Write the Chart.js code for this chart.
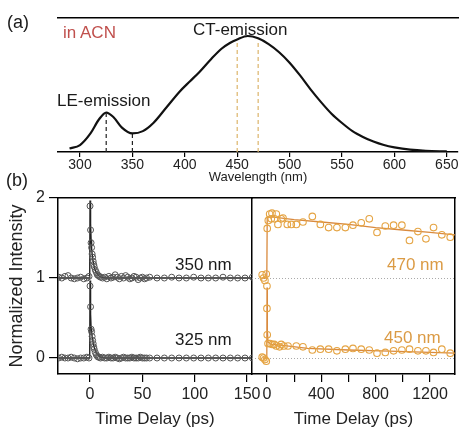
<!DOCTYPE html>
<html>
<head>
<meta charset="utf-8">
<script src="https://cdn.jsdelivr.net/npm/chart.js@4"></script>
<style>
  body { margin: 0; background: #fff; }
  #wrap { position: relative; width: 461px; height: 428px; font-family: "Liberation Sans", Arial, sans-serif; }
  canvas { position: absolute; left: 0; top: 0; }
  .lbl { position: absolute; line-height: 1; white-space: nowrap; color: #1a1a1a; }
</style>
</head>
<body>
<div id="wrap">
  <canvas id="spec" width="461" height="428"></canvas>
  <canvas id="fast" width="461" height="428"></canvas>
  <canvas id="slow" width="461" height="428"></canvas>
  <div class="lbl" style="left:7px;top:13px;font-size:18px">(a)</div>
  <div class="lbl" style="left:63px;top:24px;font-size:17px;color:#c0504d">in ACN</div>
  <div class="lbl" style="left:193px;top:21px;font-size:17px">CT-emission</div>
  <div class="lbl" style="left:57px;top:92px;font-size:17px">LE-emission</div>
  <div class="lbl" style="left:6px;top:171px;font-size:18px">(b)</div>
  <div class="lbl" style="left:175px;top:256px;font-size:17px">350 nm</div>
  <div class="lbl" style="left:175px;top:331px;font-size:17px">325 nm</div>
  <div class="lbl" style="left:387px;top:256px;font-size:17px;color:#db9b45">470 nm</div>
  <div class="lbl" style="left:384px;top:329px;font-size:17px;color:#db9b45">450 nm</div>
</div>
<script>
// (a) steady-state emission spectrum ==================
const wl = [290, 300, 310, 318, 325, 332, 340, 350, 360, 370, 383, 395, 405, 414, 425, 435, 443, 450, 460, 470,
  480, 490, 500, 510, 520, 530, 540, 550, 560, 570, 580, 590, 600, 615, 630, 650];
const spec = [0.03, 0.06, 0.16, 0.28, 0.34, 0.30, 0.21, 0.16, 0.18, 0.25, 0.39, 0.52, 0.61, 0.69, 0.80, 0.89, 0.94, 0.97, 1.0, 0.98,
  0.93, 0.86, 0.77, 0.66, 0.54, 0.43, 0.33, 0.25, 0.18, 0.13, 0.09, 0.06, 0.04, 0.02, 0.01, 0.005];
const wlTicks = [300, 350, 400, 450, 500, 550, 600, 650];
const leMarks = [325, 350];
const leMarkTop = [0.33, 0.16];
const ctMarks = [450, 470];
const ctMarkTop = [0.96, 0.97];

// (b) kinetics, left panel (ps) ======================
const tFast = [-30, -27, -24, -21, -18, -15, -12, -9, -6, -3, -1,
  0, 0.5, 1, 1.5, 2, 2.5, 3, 3.5, 4, 5, 6, 7, 8, 9, 10,
  12, 14, 16, 18, 20, 22, 24, 26, 28, 30, 32, 34, 36, 38, 40, 42, 44, 46, 48, 50, 52, 54,
  57, 64, 71, 78, 85, 92, 99, 106, 113, 120, 127, 134, 141, 148, 155];
const k350 = [0.01, 0.0, 0.02, 0.03, 0.0, -0.01, 0.0, 0.01, -0.01, 0.0, 0.02,
  0.9, 0.6, 0.44, 0.38, 0.3, 0.26, 0.21, 0.17, 0.14, 0.1, 0.07, 0.04, 0.03, 0.02, 0.01,
  0.0, 0.01, -0.01, 0.02, 0.0, 0.01, 0.04, 0.01, -0.01, 0.02, 0.0, 0.03, 0.01, -0.01, 0.0, 0.02, 0.01, -0.02, 0.0, 0.01, -0.01, 0.0,
  0.01, 0.0, 0.0, 0.01, 0.0, 0.0, 0.01, 0.0, 0.0, 0.0, 0.01, 0.0, 0.0, 0.0, 0.01];
const k325 = [0.0, 0.01, 0.0, 0.0, 0.01, 0.0, -0.01, 0.0, 0.0, 0.01, 0.0,
  0.9, 0.64, 0.36, 0.33, 0.27, 0.22, 0.18, 0.14, 0.11, 0.07, 0.04, 0.02, 0.01, 0.01, 0.0,
  0.01, 0.0, 0.0, 0.01, 0.0, 0.0, 0.01, 0.0, -0.01, 0.0, 0.01, 0.0, 0.0, 0.0, 0.01, 0.0, 0.0, 0.0, 0.01, 0.0, 0.0, 0.0,
  0.0, 0.0, 0.0, 0.0, 0.0, 0.0, 0.0, 0.0, 0.0, 0.0, 0.0, 0.0, 0.0, 0.0, 0.0];
const tFastFit = [-30, -0.3, 0, 0.5, 1, 1.5, 2, 3, 4, 5, 6, 8, 10, 14, 155];
const fit350 = [0, 0, 0.97, 0.68, 0.48, 0.37, 0.3, 0.2, 0.14, 0.1, 0.07, 0.03, 0.015, 0, 0];
const fit325 = [0, 0, 0.97, 0.55, 0.38, 0.32, 0.27, 0.19, 0.13, 0.09, 0.06, 0.03, 0.01, 0, 0];
const fastTicks = [0, 50, 100, 150];

// (b) kinetics, right panel (ps) =====================
const t470 = [-35, -25, -15, -5, 0, 2, 10, 20, 32, 37, 56, 69, 81, 105, 118, 150, 179, 216, 265,
  334, 393, 454, 515, 577, 633, 694, 753, 810, 871, 932, 993, 1049, 1111, 1170, 1226, 1287, 1349];
const k470 = [0.04, 0.0, -0.03, 0.05, -0.1, 0.62, 0.72, 0.80, 0.74, 0.81, 0.74, 0.80, 0.67, 0.74, 0.75, 0.67, 0.67, 0.67, 0.70,
  0.77, 0.67, 0.63, 0.63, 0.63, 0.66, 0.69, 0.74, 0.57, 0.65, 0.66, 0.66, 0.47, 0.58, 0.49, 0.63, 0.54, 0.51];
const t450 = [-35, -25, -15, -5, 0, 2, 8, 22, 39, 54, 69, 93, 105, 125, 155, 216, 265,
  334, 393, 454, 515, 577, 633, 694, 753, 810, 871, 932, 993, 1049, 1111, 1170, 1226, 1287, 1349];
const k450 = [0.01, 0.0, -0.02, -0.04, 0.62, 0.29, 0.18, 0.18, 0.17, 0.17, 0.15, 0.14, 0.17, 0.15, 0.15, 0.15, 0.14,
  0.10, 0.11, 0.11, 0.09, 0.11, 0.12, 0.11, 0.10, 0.06, 0.07, 0.09, 0.10, 0.11, 0.09, 0.09, 0.07, 0.11, 0.06];
const t470Fit = [-30, -1, 2, 50, 200, 400, 600, 800, 1000, 1200, 1384];
const fit470 = [0, 0, 0.76, 0.76, 0.73, 0.70, 0.67, 0.63, 0.60, 0.57, 0.54];
const t450Fit = [-30, -1, 0.5, 3, 8, 30, 100, 300, 600, 900, 1200, 1384];
const fit450 = [0, 0, 0.88, 0.35, 0.2, 0.17, 0.16, 0.12, 0.10, 0.085, 0.07, 0.06];
const slowTicks = [0, 200, 400, 600, 800, 1000, 1200];
const yTicks = [0, 1, 2];

const GREY = "#555";
const ORANGE = "#e5a443";
const ORANGE_LINE = "#d98a3e";

Chart.defaults.font.family = '"Liberation Sans", Arial, sans-serif';
Chart.defaults.color = "#222";

function pts(xs, ys, off) {
  return xs.map((x, i) => ({ x: x, y: ys[i] + (off || 0) }));
}

// axis that only draws a frame line
function frame(pos, min, max) {
  return {
    type: "linear", position: pos, min: min, max: max,
    ticks: { display: false },
    grid: { display: false },
    border: { display: true, color: "#000", width: 1.5 },
    afterFit(s) { if (pos === "top" || pos === "bottom") s.height = 0; else s.width = 0; },
  };
}

const baseOpts = {
  responsive: false,
  devicePixelRatio: 1,
  animation: false,
  plugins: { legend: { display: false }, tooltip: { enabled: false } },
};

// (a) spectrum
const specSets = [
  {
    data: pts(wl, spec), showLine: true, borderColor: "#111", borderWidth: 2.2,
    pointRadius: 0, cubicInterpolationMode: "monotone",
  },
];
leMarks.forEach((w, i) => specSets.push({
  data: pts([w, w], [0, leMarkTop[i]]), showLine: true, borderColor: "#222", borderWidth: 1.2,
  borderDash: [4, 3], pointRadius: 0,
}));
ctMarks.forEach((w, i) => specSets.push({
  data: pts([w, w], [0, ctMarkTop[i]]), showLine: true, borderColor: "#dcb46a", borderWidth: 1.2,
  borderDash: [4, 3], pointRadius: 0,
}));

new Chart(document.getElementById("spec"), {
  type: "scatter",
  data: { datasets: specSets },
  options: Object.assign({}, baseOpts, {
    layout: { padding: { left: 58, right: 3, top: 18, bottom: 244 } },
    scales: {
      x: {
        type: "linear", min: 279, max: 660.7,
        afterBuildTicks(s) { s.ticks = wlTicks.map(v => ({ value: v })); },
        afterFit(s) { s.height = 32; },
        grid: { drawOnChartArea: false, drawTicks: true, tickLength: 5, color: "#000", lineWidth: 1.2 },
        border: { color: "#000", width: 1.5 },
        ticks: { font: { size: 14 }, padding: 0, maxRotation: 0, autoSkip: false },
        title: { display: true, text: "Wavelength (nm)", font: { size: 13, lineHeight: 1 }, padding: 0 },
      },
      xTop: frame("top", 279, 660.7),
      y: { display: false, min: 0, max: 1.155 },
    },
  }),
});

// (b) left: 0-150 ps
new Chart(document.getElementById("fast"), {
  type: "scatter",
  data: {
    datasets: [
      { data: pts(tFast, k350, 1), pointRadius: 3, pointBorderWidth: 1, borderColor: GREY, backgroundColor: "rgba(0,0,0,0)", order: 0 },
      { data: pts(tFast, k325, 0), pointRadius: 3, pointBorderWidth: 1, borderColor: GREY, backgroundColor: "rgba(0,0,0,0)", order: 0 },
      { data: pts(tFastFit, fit350, 1), showLine: true, pointRadius: 0, borderColor: "#222", borderWidth: 1.4, order: 1 },
      { data: pts(tFastFit, fit325, 0), showLine: true, pointRadius: 0, borderColor: "#222", borderWidth: 1.4, order: 1 },
    ],
  },
  options: Object.assign({}, baseOpts, {
    layout: { padding: { left: 8, right: 209, top: 198, bottom: 0 } },
    scales: {
      x: {
        type: "linear", min: -30.6, max: 154.7,
        afterBuildTicks(s) { s.ticks = fastTicks.map(v => ({ value: v })); },
        afterFit(s) { s.height = 54; },
        grid: { drawOnChartArea: false, drawTicks: true, tickLength: 8, color: "#000", lineWidth: 1.2 },
        border: { color: "#000", width: 1.5 },
        ticks: { font: { size: 16 }, padding: 3, maxRotation: 0, autoSkip: false },
        title: { display: true, text: "Time Delay (ps)", font: { size: 17, lineHeight: 1 }, padding: 0 },
      },
      y: {
        type: "linear", min: -0.2, max: 2,
        afterBuildTicks(s) { s.ticks = yTicks.map(v => ({ value: v })); },
        afterFit(s) { s.width = 50; },
        grid: { drawOnChartArea: false, drawTicks: true, tickLength: 9, color: "#000", lineWidth: 1.2 },
        border: { color: "#000", width: 1.5 },
        ticks: { font: { size: 16 }, padding: 4 },
        title: { display: true, text: "Normalized Intensity", font: { size: 18, lineHeight: 1 }, padding: 0 },
      },
      xTop: frame("top", -30.6, 154.7),
      yRight: frame("right", -0.2, 2),
    },
  }),
});

// (b) right: 0-1400 ps
new Chart(document.getElementById("slow"), {
  type: "scatter",
  data: {
    datasets: [
      { data: pts(t470, k470, 1), pointRadius: 3.3, pointBorderWidth: 1.1, borderColor: ORANGE, backgroundColor: "rgba(0,0,0,0)", order: 0 },
      { data: pts(t450, k450, 0), pointRadius: 3.3, pointBorderWidth: 1.1, borderColor: ORANGE, backgroundColor: "rgba(0,0,0,0)", order: 0 },
      { data: pts(t470Fit, fit470, 1), showLine: true, pointRadius: 0, borderColor: ORANGE_LINE, borderWidth: 1.3, order: 1 },
      { data: pts(t450Fit, fit450, 0), showLine: true, pointRadius: 0, borderColor: ORANGE_LINE, borderWidth: 1.3, order: 1 },
    ],
  },
  options: Object.assign({}, baseOpts, {
    layout: { padding: { left: 252, right: 6, top: 198, bottom: 0 } },
    scales: {
      x: {
        type: "linear", min: -110, max: 1384,
        afterBuildTicks(s) { s.ticks = slowTicks.map(v => ({ value: v })); },
        afterFit(s) { s.height = 54; },
        grid: { drawOnChartArea: false, drawTicks: true, tickLength: 8, color: "#000", lineWidth: 1.2 },
        border: { color: "#000", width: 1.5 },
        ticks: {
          font: { size: 16 }, padding: 3, maxRotation: 0, autoSkip: false,
          callback: v => (v % 400 === 0 ? String(v) : ""),
        },
        title: { display: true, text: "Time Delay (ps)", font: { size: 17, lineHeight: 1 }, padding: 0 },
      },
      y: {
        type: "linear", min: -0.2, max: 2,
        afterBuildTicks(s) { s.ticks = [0, 1].map(v => ({ value: v })); },
        afterFit(s) { s.width = 0; },
        ticks: { display: false },
        grid: { drawOnChartArea: true, drawTicks: false, color: "#aaa", lineWidth: 1 },
        border: { display: false, dash: [1, 2] },
      },
      xTop: frame("top", -110, 1384),
      yRight: frame("right", -0.2, 2),
    },
  }),
});
</script>
</body>
</html>
